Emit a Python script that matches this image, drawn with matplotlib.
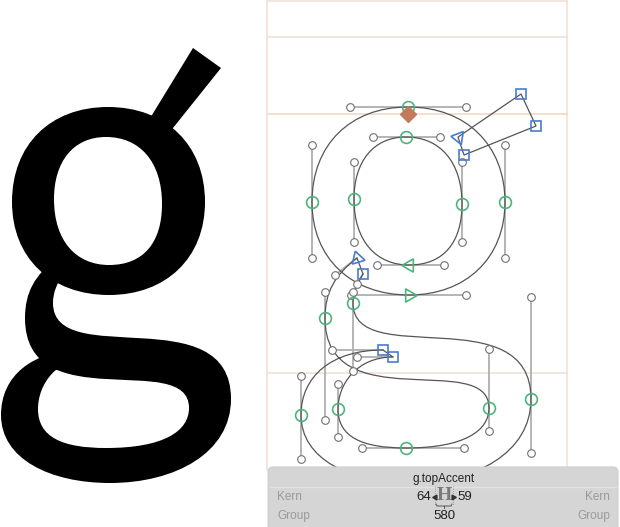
import matplotlib.pyplot as plt
import matplotlib.patches as mpatches
from matplotlib.path import Path

# glyph outline nodes, in screen pixels (y down) of the edit view
bowl_pts = [(408, 107), (312, 202), (409, 295), (505, 202)]
bowl_in = [(466, 107), (312, 145), (351, 295), (505, 258)]
bowl_out = [(350, 107), (312, 258), (466, 295), (505, 145)]

counter_pts = [(406, 137), (462, 204), (409, 265), (354, 199)]
counter_in = [(373, 137), (462, 162), (444, 265), (354, 242)]
counter_out = [(440, 137), (462, 242), (377, 265), (354, 162)]

loop_pts = [(357, 258), (325, 318), (489, 408), (406, 448), (338, 409), (393, 357),
            (383, 350), (301, 415), (410, 483), (531, 399), (353, 303), (363, 274)]
loop_in = [None, (325, 292), (489, 349), (464, 448), (338, 437), (357, 357),
           None, (301, 376), (350, 483), (531, 453), (353, 371), (357, 284)]
loop_out = [(335, 275), (325, 420), (489, 431), (362, 448), (338, 384), None,
            (332, 350), (301, 459), (475, 483), (531, 297), (353, 292), None]
loop_kind = ['start', 'smooth', 'smooth', 'smooth', 'smooth', 'corner',
             'corner', 'smooth', 'smooth', 'smooth', 'smooth', 'corner']

accent_pts = [(458, 137), (521, 94), (536, 126), (464, 155)]
preview_ear = [(152, 115), (193, 48), (221, 68), (173, 128), (168, 136), (146, 124)]

anchor = (408, 114)
preview_shift = -300

frame_x = [267, 567]
frame_y = [1, 37, 114, 373]

glyph_name = 'g.topAccent'
lsb, rsb, advance = 64, 59, 580

OUTLINE = '#555555'
GREEN = '#4cb57a'
BLUE = '#4a7bd0'
HANDLE = '#b4b4b4'
FRAME = '#f1e2d5'


def make_path(pts, h_in, h_out, dx=0):
    verts = [(pts[0][0] + dx, pts[0][1])]
    codes = [Path.MOVETO]
    n = len(pts)
    for i in range(n):
        a, b = i, (i + 1) % n
        if h_out[a] is None and h_in[b] is None:
            verts.append((pts[b][0] + dx, pts[b][1]))
            codes.append(Path.LINETO)
        else:
            c1 = h_out[a] if h_out[a] is not None else pts[a]
            c2 = h_in[b] if h_in[b] is not None else pts[b]
            verts += [(c1[0] + dx, c1[1]), (c2[0] + dx, c2[1]), (pts[b][0] + dx, pts[b][1])]
            codes += [Path.CURVE4] * 3
    verts.append(verts[0])
    codes.append(Path.CLOSEPOLY)
    return Path(verts, codes)


fig = plt.figure(figsize=(6.2, 5.27), dpi=100)
ax = fig.add_axes([0, 0, 1, 1])
ax.set_xlim(0, 620)
ax.set_ylim(527, 0)
ax.axis('off')

# preview glyph on the left
ax.add_patch(mpatches.PathPatch(make_path(bowl_pts, bowl_in, bowl_out, preview_shift),
                                fc='black', ec='none', zorder=1))
ax.add_patch(mpatches.PathPatch(make_path(counter_pts, counter_in, counter_out, preview_shift),
                                fc='white', ec='none', zorder=1.1))
ax.add_patch(mpatches.PathPatch(make_path(loop_pts, loop_in, loop_out, preview_shift),
                                fc='black', ec='none', zorder=1.2))
ax.add_patch(mpatches.Polygon(preview_ear, closed=True, fc='black', ec='none', zorder=1.2))

# metric frame
for fx in frame_x:
    ax.plot([fx, fx], [frame_y[0], 470], color=FRAME, lw=1.2, zorder=2)
for fy in frame_y:
    ax.plot(frame_x, [fy, fy], color='#f0d9c6' if fy == 114 else FRAME, lw=1.2, zorder=2)

# outlines
for pts, hi, ho in [(bowl_pts, bowl_in, bowl_out), (counter_pts, counter_in, counter_out),
                    (loop_pts, loop_in, loop_out)]:
    ax.add_patch(mpatches.PathPatch(make_path(pts, hi, ho), fc='none', ec=OUTLINE,
                                    lw=0.9, zorder=3))
    for p, a, b in zip(pts, hi, ho):
        for h in (a, b):
            if h is not None:
                ax.plot([p[0], h[0]], [p[1], h[1]], color=HANDLE, lw=1.4, zorder=2.5)
                ax.plot(h[0], h[1], 'o', ms=5.5, mfc='white', mec='#707070', mew=0.8, zorder=4)
ax.add_patch(mpatches.Polygon(accent_pts, closed=True, fc='none', ec=OUTLINE, lw=0.9, zorder=3))

# on-curve nodes
def node_marker(p, kind, rot=0):
    if kind == 'smooth':
        ax.plot(p[0], p[1], 'o', ms=8.5, mfc='none', mec=GREEN, mew=1.2, zorder=5)
    elif kind == 'corner':
        ax.plot(p[0], p[1], 's', ms=7, mfc='none', mec=BLUE, mew=1.2, zorder=5)
    elif kind == 'gstart':
        ax.plot(p[0], p[1], marker=(3, 0, rot), ms=11, mfc='none', mec=GREEN, mew=1.2, zorder=5)
    elif kind == 'bstart':
        ax.plot(p[0], p[1], marker=(3, 0, rot), ms=11, mfc='none', mec=BLUE, mew=1.2, zorder=5)


for i, p in enumerate(bowl_pts):
    node_marker(p, 'gstart' if i == 2 else 'smooth', -90)
for i, p in enumerate(counter_pts):
    node_marker(p, 'gstart' if i == 2 else 'smooth', 90)
for p, k in zip(loop_pts, loop_kind):
    node_marker(p, 'bstart' if k == 'start' else k, 17)
for i, p in enumerate(accent_pts):
    node_marker(p, 'bstart' if i == 0 else 'corner', 81)

ax.plot(anchor[0], anchor[1], 'D', ms=8, color='#c27a5a', zorder=6)

# info panel
ax.add_patch(mpatches.FancyBboxPatch((268, 467), 350, 80, boxstyle='round,pad=0,rounding_size=5',
                                     fc='#d5d5d5', ec='#cfcfcf', lw=0.8, zorder=10))
ax.plot([270, 616], [487, 487], color='#e2e2e2', lw=1, zorder=11)
font = 'Liberation Sans'
ax.text(444, 479, glyph_name, ha='center', va='center', fontsize=8.5, family=font, color='#222222', zorder=12)
ax.text(277, 497, 'Kern', ha='left', va='center', fontsize=8.5, family=font, color='#9a9a9a', zorder=12)
ax.text(277, 516, 'Group', ha='left', va='center', fontsize=8.5, family=font, color='#9a9a9a', zorder=12)
ax.text(610, 497, 'Kern', ha='right', va='center', fontsize=8.5, family=font, color='#9a9a9a', zorder=12)
ax.text(610, 516, 'Group', ha='right', va='center', fontsize=8.5, family=font, color='#9a9a9a', zorder=12)
ax.text(431, 497, str(lsb), ha='right', va='center', fontsize=9.5, family=font, color='#222222', zorder=12)
ax.text(457, 497, str(rsb), ha='left', va='center', fontsize=9.5, family=font, color='#222222', zorder=12)
ax.text(444, 516, str(advance), ha='center', va='center', fontsize=9.5, family=font, color='#222222', zorder=12)
ax.text(444, 496, 'H', ha='center', va='center', fontsize=14, family='Liberation Serif',
        weight='bold', color='#7a7a7a', zorder=12)
for xx in (435, 453):
    ax.plot([xx, xx], [486, 505], color='#8a8a8a', lw=0.6, ls=':', zorder=12)
ax.plot(435, 497, marker=(3, 0, 90), ms=4, color='#333333', zorder=13)
ax.plot(453, 497, marker=(3, 0, -90), ms=4, color='#333333', zorder=13)
ax.plot([436, 437, 451, 452], [504, 506, 506, 504], color='#555555', lw=0.7, zorder=12)
ax.plot([444, 444], [506, 508], color='#555555', lw=0.7, zorder=12)

fig.savefig('out.png', dpi=100)
